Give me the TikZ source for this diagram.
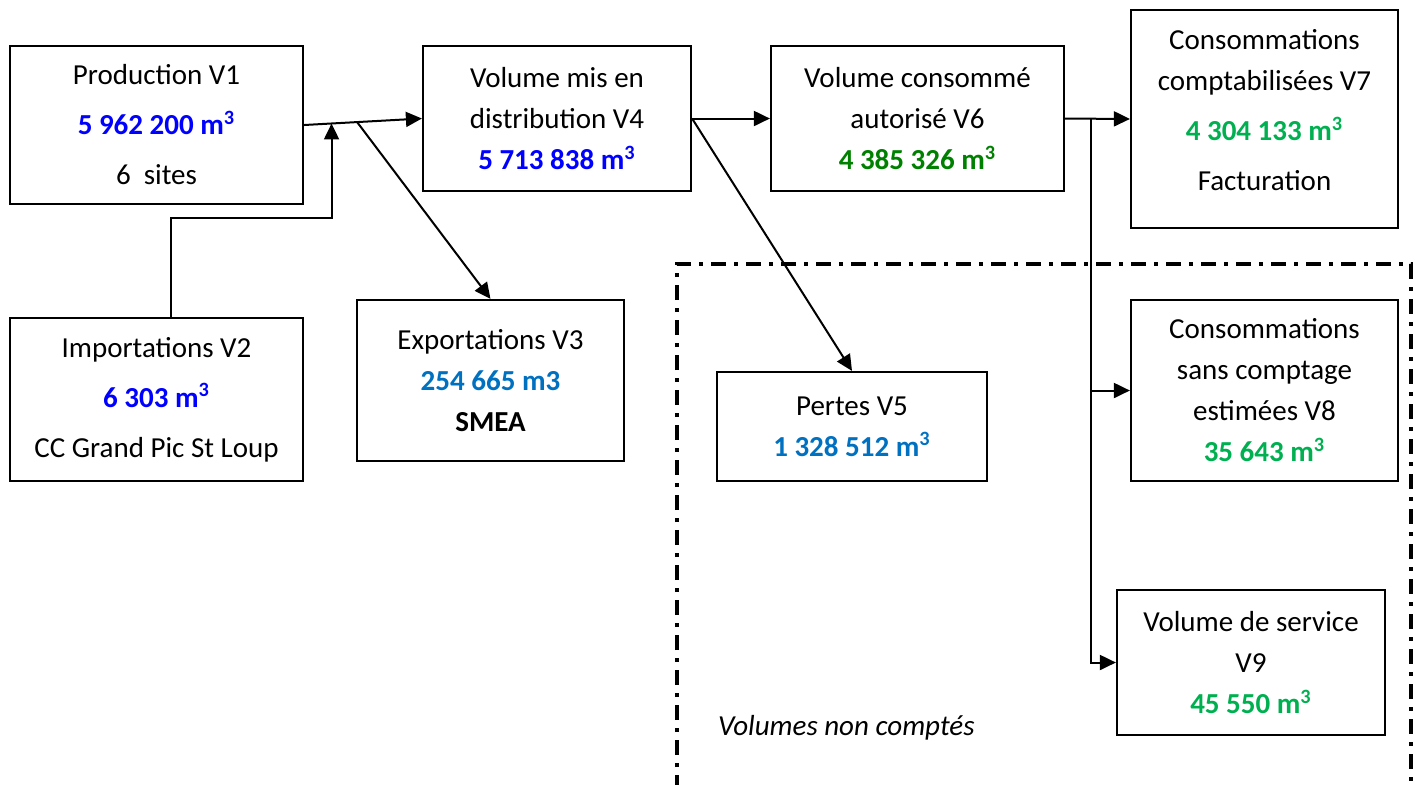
\documentclass[tikz,border=0pt]{standalone}
\usepackage{fontspec}
\setmainfont{Carlito}
\usetikzlibrary{arrows.meta}
\usetikzlibrary{calc}
\definecolor{volblue}{RGB}{0,0,255}
\definecolor{volteal}{RGB}{0,112,192}
\definecolor{voldgrn}{RGB}{0,128,0}
\definecolor{vollgrn}{RGB}{0,176,80}
\newcommand{\cbm}{m\textsuperscript{3}}
\newcommand{\parsk}{4.5pt}
\newcommand{\volval}[2]{\textbf{\color{#1}#2}}

\begin{document}
\begin{tikzpicture}[x=0.5pt,y=-0.5pt,
    font=\fontsize{14.5}{20.5}\selectfont,
    volbox/.style={draw,line width=1.1pt,inner sep=0pt,align=center},
    flow/.style={line width=1pt,-{Triangle[length=8pt,width=7.5pt]}},
    link/.style={line width=1pt}]
  \useasboundingbox (0,0) rectangle (1421,784);

  % zone des volumes non comptes
  \draw[line width=1.7pt,dash pattern=on 7.5pt off 4pt on 2pt off 4pt]
    (677,790) -- (677,264) -- (1411,264) -- (1411,790);
  \node[anchor=west,font=\fontsize{14.5}{20.5}\selectfont\itshape] (noncpt)
    at (711,728) {Volumes non comptés};

  \node[volbox,minimum width=146.5pt,minimum height=79pt] (prod) at (156.5,125)
    {Production V1\\[\parsk] \volval{volblue}{5 962 200 \cbm}\\[\parsk] 6~ sites};
  \node[volbox,minimum width=146.5pt,minimum height=81.5pt] (imp) at (156.5,399.5)
    {Importations V2\\[\parsk] \volval{volblue}{6 303 \cbm}\\[\parsk] CC Grand Pic St Loup};
  \node[volbox,minimum width=133.5pt,minimum height=80.5pt] (exp) at (490.5,380.5)
    {Exportations V3\\ \volval{volteal}{254 665 m3}\\ \textbf{SMEA}};
  \node[volbox,minimum width=134pt,minimum height=72.5pt] (dist) at (557,118.5)
    {Volume mis en\\ distribution V4\\ \volval{volblue}{5 713 838 \cbm}};
  \node[volbox,minimum width=146.5pt,minimum height=72.5pt] (auto) at (917.5,118.5)
    {Volume consommé\\ autorisé V6\\ \volval{voldgrn}{4 385 326 \cbm}};
  \node[volbox,minimum width=133.5pt,minimum height=109pt] (compt) at (1264.5,119)
    {Consommations\\ comptabilisées V7\\[\parsk] \volval{vollgrn}{4 304 133 \cbm}\\[\parsk] Facturation\\[-11.5pt]\mbox{}};
  \node[volbox,minimum width=135pt,minimum height=54.5pt] (pertes) at (852,426.5)
    {Pertes V5\\ \volval{volteal}{1 328 512 \cbm}};
  \node[volbox,minimum width=133.5pt,minimum height=90.5pt] (sans) at (1264.5,390.5)
    {Consommations\\ sans comptage\\ estimées V8\\ \volval{vollgrn}{35 643 \cbm}};
  \node[volbox,minimum width=134pt,minimum height=72.5pt] (service) at (1251,662.5)
    {Volume de service\\ V9\\ \volval{vollgrn}{45 550 \cbm}};

  \coordinate (mix) at ($(prod.east)!0.233!(dist.west)$);
  \coordinate (split) at ($(prod.east)!0.45!(dist.west)$);
  \coordinate (bend) at (171,218);
  \coordinate (tap) at ($(auto.east)!0.4!(compt.west)$);

  \draw[flow] (prod.east) -- (dist.west);
  \draw[flow] (imp.north -| bend) -- (bend) -- (bend -| mix) -- (mix);
  \draw[flow] (split) -- (exp.north);
  \draw[flow] (dist.east) -- (auto.west);
  \draw[flow] (dist.east) -- (pertes.north);
  \draw[flow] (auto.east) -- (compt.west);
  \draw[flow] (tap) -- (tap |- service.west) -- (service.west);
  \draw[flow] (tap |- sans.west) -- (sans.west);
\end{tikzpicture}
\end{document}
